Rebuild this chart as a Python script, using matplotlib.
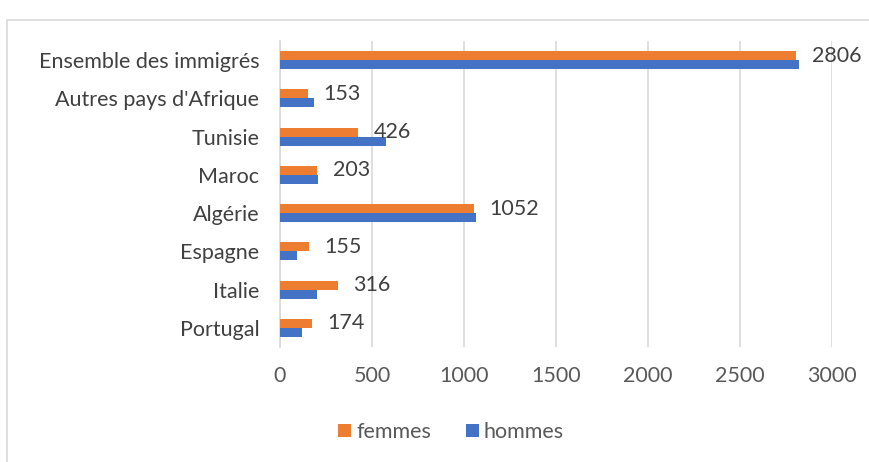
import numpy as np
import matplotlib.pyplot as plt
from matplotlib.patches import Rectangle

# Data (bottom to top as drawn)
categories = ["Portugal", "Italie", "Espagne", "Algérie", "Maroc", "Tunisie",
              "Autres pays d'Afrique", "Ensemble des immigrés"]
femmes = [174, 316, 155, 1052, 203, 426, 153, 2806]
hommes = [119, 199, 95, 1063, 208, 575, 183, 2819]
xticks = [0, 500, 1000, 1500, 2000, 2500, 3000]

ORANGE = '#ED7D31'
BLUE = '#4472C4'
TXT = '#404040'
TICK = '#595959'
FS = 15.5

plt.rcParams['font.family'] = ['Lato', 'DejaVu Sans']

fig = plt.figure(figsize=(8.7, 4.62), dpi=100)
ax = fig.add_axes([280 / 870, 1 - 347 / 462, 552 / 870, 306 / 462])

y = np.arange(len(categories))
h = 0.235
ax.barh(y + h / 2, femmes, height=h, color=ORANGE, label='femmes', zorder=3)
ax.barh(y - h / 2, hommes, height=h, color=BLUE, label='hommes', zorder=3)

# value labels (femmes series)
for yi, v in zip(y, femmes):
    ax.annotate(str(v), (v, yi + h / 2), xytext=(11, 0), textcoords='offset points',
                ha='left', va='center', fontsize=FS, color=TXT)

ax.set_xlim(0, 3000)
ax.set_ylim(-0.5, len(categories) - 0.5)
ax.set_xticks(xticks)
ax.set_yticks(y)
ax.set_yticklabels(categories)
ax.tick_params(axis='both', length=0, labelsize=FS)
ax.tick_params(axis='x', colors=TICK, pad=14)
ax.tick_params(axis='y', colors=TXT, pad=15)
ax.grid(axis='x', color='#D9D9D9', linewidth=1.2, zorder=0)
for s in ['top', 'right', 'bottom']:
    ax.spines[s].set_visible(False)
ax.spines['left'].set_color('#D9D9D9')
ax.spines['left'].set_linewidth(1.2)

fig.legend(loc='center', bbox_to_anchor=(451 / 870, 1 - 432 / 462), ncol=2,
           frameon=False, fontsize=FS, labelcolor=TICK, handlelength=0.6,
           handleheight=0.6, handletextpad=0.25, columnspacing=1.6)

# chart border
fig.patches.append(Rectangle((7 / 870, -0.1), 1.2, 1 - 20 / 462 + 0.1,
                             transform=fig.transFigure, fill=False,
                             edgecolor='#D9D9D9', linewidth=1.2))

fig.savefig('out.png', dpi=100)
